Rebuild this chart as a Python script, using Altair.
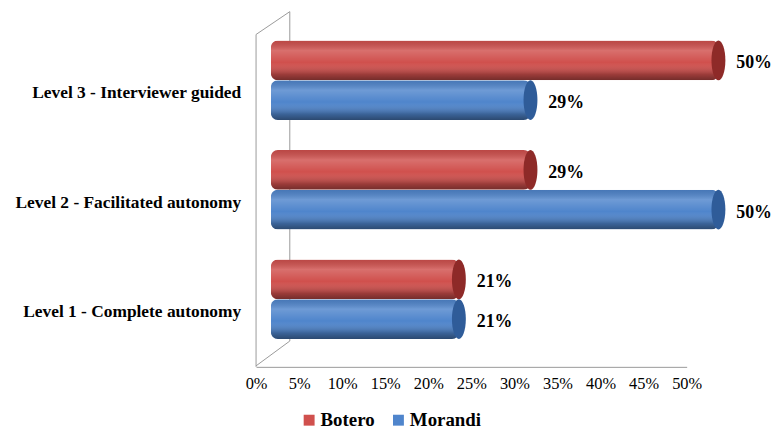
import altair as alt
import pandas as pd

levels = ["Level 3 - Interviewer guided", "Level 2 - Facilitated autonomy", "Level 1 - Complete autonomy"]
series = ["Botero", "Morandi"]
botero = [0.50, 0.29, 0.21]
morandi = [0.29, 0.50, 0.21]
colors = ["#d0504d", "#4f85cc"]
cap_colors = ["#8e2a28", "#2f5c99"]
x_ticks = [0, 0.05, 0.10, 0.15, 0.20, 0.25, 0.30, 0.35, 0.40, 0.45, 0.50]

rows = []
for lv, b, m in zip(levels, botero, morandi):
    rows.append({"level": lv, "series": "Botero", "value": b})
    rows.append({"level": lv, "series": "Morandi", "value": m})
df = pd.DataFrame(rows)

SERIF = "Liberation Serif"

y_enc = alt.Y("level:N", sort=levels,
              scale=alt.Scale(domain=levels, range=[14, 345], paddingInner=0, paddingOuter=0),
              axis=None)
yoff = alt.YOffset("series:N", sort=series,
                   scale=alt.Scale(domain=series, paddingInner=0, paddingOuter=0.38))
x_bar = alt.X("value:Q", scale=alt.Scale(domain=[0, 0.5], range=[15, 466], nice=False, zero=True),
              axis=None)

bars = alt.Chart(df).mark_bar(cornerRadius=7).encode(
    x=x_bar, y=y_enc, yOffset=yoff,
    color=alt.Color("series:N", sort=series,
                    scale=alt.Scale(domain=series, range=colors),
                    legend=alt.Legend(title=None, orient="none", legendX=44, legendY=402,
                                      direction="horizontal", symbolType="square",
                                      symbolSize=121, symbolStrokeWidth=0,
                                      labelFont=SERIF, labelFontSize=19, labelFontWeight="bold",
                                      labelColor="black", columnPadding=14, symbolOffset=0,
                                      labelOffset=2, labelLimit=300)),
)

shade = alt.Chart(df).mark_bar(
    cornerRadius=7,
    fill=alt.Gradient(
        gradient="linear", x1=0, x2=0, y1=0, y2=1,
        stops=[
            alt.GradientStop(offset=0, color="rgba(0,0,0,0.10)"),
            alt.GradientStop(offset=0.25, color="rgba(255,255,255,0.18)"),
            alt.GradientStop(offset=0.55, color="rgba(255,255,255,0.0)"),
            alt.GradientStop(offset=0.85, color="rgba(0,0,0,0.25)"),
            alt.GradientStop(offset=1, color="rgba(0,0,0,0.45)"),
        ],
    ),
).encode(x=x_bar, y=y_enc, yOffset=yoff)

ellipse = "M0,-1 A0.35,1 0 1,1 0,1 A0.35,1 0 1,1 0,-1 Z"
caps = alt.Chart(df).mark_point(shape=ellipse, filled=True, size=1600, opacity=1).encode(
    x=x_bar, y=y_enc, yOffset=yoff,
    fill=alt.Fill("series:N", sort=series, scale=alt.Scale(domain=series, range=cap_colors), legend=None),
)

labels = alt.Chart(df).mark_text(align="left", baseline="middle", dx=18, dy=3,
                                 font=SERIF, fontSize=18, fontWeight="bold", color="black").encode(
    x=x_bar, y=y_enc, yOffset=yoff,
    text=alt.Text("value:Q", format=".0%"),
)

ylabels = alt.Chart(pd.DataFrame({"level": levels})).mark_text(
    align="right", baseline="middle", dx=-15, dy=13,
    font=SERIF, fontSize=17.5, fontWeight="bold", color="black").encode(
    x=alt.value(0), y=y_enc, text="level:N")

wall_data = pd.DataFrame({"a": [0]})
wall_style = dict(color="#9a9a9a", strokeWidth=1)
walls = [
    alt.Chart(wall_data).mark_rule(**wall_style).encode(x=alt.value(0), y=alt.value(23), x2=alt.value(0), y2=alt.value(358)),
    alt.Chart(wall_data).mark_rule(**wall_style).encode(x=alt.value(0), y=alt.value(23), x2=alt.value(34), y2=alt.value(0)),
    alt.Chart(wall_data).mark_rule(**wall_style).encode(x=alt.value(34), y=alt.value(0), x2=alt.value(34), y2=alt.value(332)),
    alt.Chart(wall_data).mark_rule(**wall_style).encode(x=alt.value(34), y=alt.value(332), x2=alt.value(0), y2=alt.value(357)),
]

bar_group = alt.layer(*walls, bars, shade, caps, labels, ylabels)

axis_layer = alt.Chart(df).mark_point(opacity=0).encode(
    x=alt.X("value:Q",
            scale=alt.Scale(domain=[0, 0.5], range=[0, 434], nice=False),
            axis=alt.Axis(orient="bottom", values=x_ticks, format=".0%", title=None,
                          grid=False, ticks=False, domain=True, domainColor="#9a9a9a",
                          labelFont=SERIF, labelFontSize=16.5, labelColor="black",
                          labelPadding=9, labelFlush=False)),
    y=y_enc,
)

chart = alt.layer(bar_group, axis_layer).resolve_scale(
    x="independent", fill="independent"
).properties(
    width=480, height=358,
    autosize=alt.AutoSizeParams(type="none"),
    padding={"left": 250, "top": 2, "right": 40, "bottom": 67},
).configure(background="white").configure_view(strokeWidth=0, stroke=None)

chart.save("out.html", embed_options={"renderer": "svg", "actions": False})
